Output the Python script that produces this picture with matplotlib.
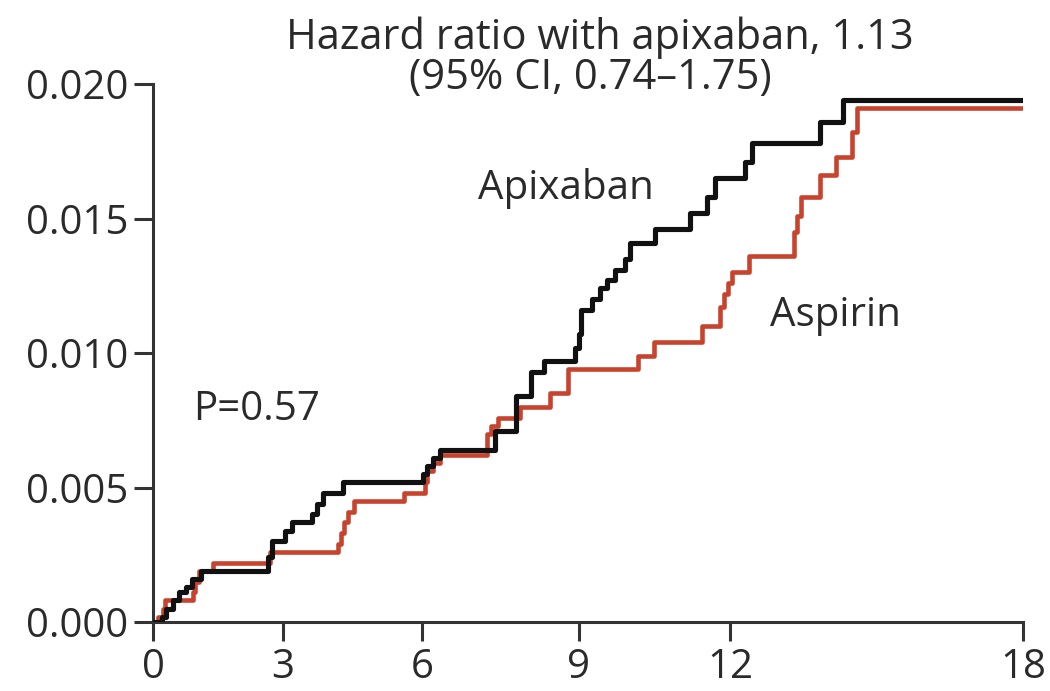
import numpy as np
import matplotlib
matplotlib.use("Agg")
from matplotlib import pyplot as plt

# cumulative incidence, step curves (months, cumulative probability)
apix_t = [0, 0.20, 0.30, 0.45, 0.60, 0.75, 0.90, 1.10, 2.65, 2.75, 3.05, 3.20,
          3.63, 3.74, 3.87, 4.30, 6.02, 6.10, 6.20, 6.34, 7.39, 7.80, 8.08,
          8.33, 8.92, 9.00, 9.05, 9.26, 9.42, 9.56, 9.72, 9.91, 10.01, 10.51,
          11.21, 11.54, 11.70, 12.31, 12.44, 13.84, 14.32, 17.95]
apix_y = [0, 0.0002, 0.0005, 0.0008, 0.0011, 0.0013, 0.0016, 0.0019, 0.0024,
          0.0030, 0.0034, 0.0037, 0.0040, 0.0044, 0.0048, 0.0052, 0.0055,
          0.0058, 0.0061, 0.0064, 0.0071, 0.0084, 0.0093, 0.0097, 0.0102,
          0.0107, 0.0116, 0.0120, 0.0124, 0.0127, 0.0131, 0.0135, 0.0141,
          0.0146, 0.0152, 0.0158, 0.0165, 0.0171, 0.0178, 0.0186, 0.0194,
          0.0194]

asp_t = [0, 0.12, 0.22, 0.28, 0.92, 0.97, 1.05, 1.38, 2.70, 4.18, 4.25, 4.32,
         4.40, 4.52, 5.60, 6.05, 6.10, 6.20, 6.35, 7.24, 7.32, 7.45, 7.87,
         8.45, 8.79, 10.17, 10.49, 11.45, 11.80, 11.88, 11.95, 12.03, 12.38,
         13.30, 13.38, 13.45, 13.84, 14.17, 14.50, 14.60, 17.95]
asp_y = [0, 0.0002, 0.0005, 0.0008, 0.0011, 0.0015, 0.0019, 0.0022, 0.0026,
         0.0029, 0.0033, 0.0037, 0.0041, 0.0045, 0.0048, 0.0052, 0.0056,
         0.0059, 0.0062, 0.0070, 0.0073, 0.0076, 0.0080, 0.0085, 0.0094,
         0.0099, 0.0104, 0.0110, 0.0117, 0.0122, 0.0126, 0.0130, 0.0136,
         0.0145, 0.0151, 0.0158, 0.0166, 0.0173, 0.0182, 0.0191, 0.0191]

x_ticks = [0, 3, 6, 9, 12, 18]
y_ticks = [0.000, 0.005, 0.010, 0.015, 0.020]
y_labels = ["0.000", "0.005", "0.010", "0.015", "0.020"]

title_1 = "Hazard ratio with apixaban, 1.13"
title_2 = "(95% CI, 0.74\u20131.75)"
p_text = "P=0.57"

# the month axis is drawn with uneven tick spacing
warp_at = [-6, 0, 3, 6, 9, 12, 18, 24]
warp_to = [-6, 0, 2.69, 5.57, 8.81, 11.94, 18, 24]


def fwd(x):
    return np.interp(x, warp_at, warp_to)


def inv(x):
    return np.interp(x, warp_to, warp_at)


plt.rcParams['font.family'] = ['Open Sans', 'DejaVu Sans']
txt_col = '#2a2a2a'
fs = 30

fig = plt.figure(figsize=(10.5, 6.91), dpi=100)
ax = fig.add_axes([153 / 1050, 69 / 691, 870 / 1050, 538 / 691])
ax.set_xscale('function', functions=(fwd, inv))

ax.step(asp_t, asp_y, where='post', color='#c8432e', lw=3.3, zorder=2)
ax.step(apix_t, apix_y, where='post', color='#111111', lw=3.7, zorder=3)

ax.set_xlim(0, 18)
ax.set_ylim(0, 0.020)
ax.set_xticks(x_ticks)
ax.set_xticklabels([str(t) for t in x_ticks])
ax.set_yticks(y_ticks)
ax.set_yticklabels(y_labels)

for s in ['top', 'right']:
    ax.spines[s].set_visible(False)
for s in ['left', 'bottom']:
    ax.spines[s].set_linewidth(2.2)
    ax.spines[s].set_color('#333333')
ax.tick_params(axis='both', direction='out', length=14, width=2.2,
               color='#333333', labelsize=fs - 1, labelcolor=txt_col)
ax.tick_params(axis='x', pad=4)
ax.tick_params(axis='y', pad=4)

ax.text(8.75, 0.0161, "Apixaban", fontsize=fs - 1, color=txt_col,
        ha='center', va='center')
ax.text(14.15, 0.0114, "Aspirin", fontsize=fs - 1, color=txt_col,
        ha='center', va='center')
ax.text(2.4, 0.0079, p_text, fontsize=fs - 1, color=txt_col,
        ha='center', va='center')

fig.text(600 / 1050, 1 - 38 / 691, title_1, fontsize=fs, color=txt_col,
         ha='center', va='center')
fig.text(590 / 1050, 1 - 78 / 691, title_2, fontsize=fs, color=txt_col,
         ha='center', va='center')

fig.savefig('out.png', dpi=100, facecolor='white')
